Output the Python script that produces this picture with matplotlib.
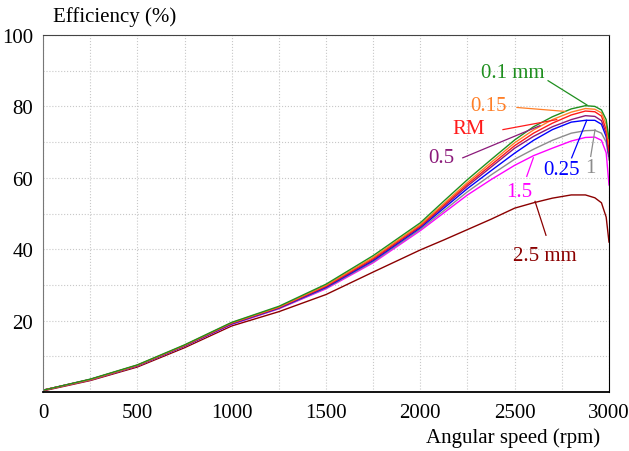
import numpy as np
import matplotlib.pyplot as plt
from matplotlib.ticker import MultipleLocator

plt.rcParams['font.family'] = ['Liberation Serif', 'DejaVu Serif']

# Angular speed (rpm) and efficiency (%) for each curve
rpm = [0, 250, 500, 750, 1000, 1250, 1500, 1750, 2000, 2125, 2250, 2375, 2500,
       2600, 2700, 2800, 2875, 2925, 2960, 2985, 3000]
eff_01 = [0.5, 3.6, 7.6, 13.2, 19.5, 24.0, 30.2, 38.2, 47.4, 53.5, 59.5, 65.1, 70.6,
          74.3, 77.1, 79.3, 80.2, 80.0, 79.0, 76.3, 71.0]
eff_015 = [0.5, 3.5, 7.5, 13.1, 19.4, 23.8, 29.9, 37.7, 46.9, 52.8, 58.7, 64.3, 69.8,
           73.4, 76.3, 78.4, 79.4, 79.2, 78.2, 75.0, 69.5]
eff_rm = [0.5, 3.5, 7.5, 13.0, 19.3, 23.7, 29.7, 37.4, 46.6, 52.4, 58.2, 63.6, 69.0,
          72.5, 75.3, 77.6, 78.7, 78.5, 77.3, 73.5, 67.5]
eff_05 = [0.5, 3.5, 7.4, 13.0, 19.2, 23.6, 29.5, 37.1, 46.3, 52.0, 57.7, 63.0, 68.3,
          71.6, 74.3, 76.3, 77.4, 77.2, 76.0, 72.5, 66.0]
eff_025 = [0.5, 3.5, 7.4, 12.9, 19.1, 23.5, 29.3, 36.8, 46.0, 51.5, 57.0, 62.0, 66.9,
           70.5, 73.5, 75.6, 76.1, 76.1, 75.0, 71.5, 66.0]
eff_1 = [0.5, 3.4, 7.3, 12.8, 19.0, 23.4, 29.1, 36.5, 45.6, 50.8, 56.1, 60.8, 65.2,
         68.0, 70.5, 72.5, 73.2, 73.3, 72.5, 70.0, 65.0]
eff_15 = [0.5, 3.4, 7.3, 12.8, 18.9, 23.3, 28.9, 36.2, 45.2, 50.2, 55.2, 59.5, 63.5,
          66.2, 68.3, 70.3, 71.3, 71.4, 70.5, 67.0, 58.0]
eff_25 = [0.3, 3.2, 7.0, 12.4, 18.5, 22.5, 27.3, 33.6, 39.8, 42.6, 45.5, 48.4, 51.5,
          53.0, 54.3, 55.2, 55.2, 54.4, 53.0, 49.0, 42.0]

fig = plt.figure(figsize=(6.29, 4.52), dpi=100)
ax = fig.add_axes([43/629, 1-393/452, 566/629, 357/452])

# curves (drawn bottom to top)
ax.plot(rpm, eff_25, color='#8b0000', lw=1.0)
ax.plot(rpm, eff_15, color='#ff00ff', lw=1.0)
ax.plot(rpm, eff_1, color='#8c8c8c', lw=1.0)
ax.plot(rpm, eff_025, color='#0000ff', lw=1.0)
ax.plot(rpm, eff_05, color='#8b1a7a', lw=1.0)
ax.plot(rpm, eff_rm, color='#ff1a1a', lw=1.0)
ax.plot(rpm, eff_015, color='#ff7f27', lw=1.0)
ax.plot(rpm, eff_01, color='#1f8f1f', lw=1.0)

# labels with leader lines
def label(txt, tx, ty, x0, y0, x1, y1, c):
    ax.plot([x0, x1], [y0, y1], color=c, lw=0.9)
    ax.text(tx, ty, txt, color=c, fontsize=15, ha='center', va='center')

label('0.1 mm', 2491, 89.4, 2677, 87.2, 2883, 80.4, '#1f8f1f')
label('0.15', 2361, 80.2, 2512, 79.7, 2767, 78.6, '#ff7f27')
label('RM', 2258, 73.7, 2438, 73.5, 2723, 76.3, '#ff1a1a')
label('0.5', 2110, 65.6, 2225, 65.6, 2634, 74.6, '#8b1a7a')
label('0.25', 2749, 62.3, 2802, 65.6, 2882, 76.1, '#0000ff')
label('1', 2899, 62.8, 2903, 66.0, 2926, 73.5, '#8c8c8c')
label('1.5', 2523, 56.2, 2564, 60.4, 2599, 65.6, '#ff00ff')
label('2.5 mm', 2662, 38.1, 2666, 43.9, 2608, 53.4, '#8b0000')

ax.set_xlim(0, 3000)
ax.set_ylim(0, 100)
ax.set_xticks([0, 500, 1000, 1500, 2000, 2500, 3000])
ax.set_yticks([20, 40, 60, 80, 100])
ax.xaxis.set_minor_locator(MultipleLocator(250))
ax.yaxis.set_minor_locator(MultipleLocator(10))
ax.grid(which='both', color='#c8c8c8', ls=':', lw=0.8)
ax.set_axisbelow(True)
ax.tick_params(which='both', length=0, labelsize=15)
ax.tick_params(axis='x', pad=8)
ax.tick_params(axis='y', pad=7)

ax.spines['left'].set_color('#777777')
ax.spines['top'].set_color('#444444')
ax.spines['right'].set_color('black')
ax.spines['bottom'].set_color('black')
ax.spines['bottom'].set_linewidth(1.3)

fig.text(53/629, 1-17/452, 'Efficiency (%)', fontsize=15, va='center', ha='left')
fig.text(600/629, 1-438/452, 'Angular speed (rpm)', fontsize=15, va='center', ha='right')

fig.savefig('out.png', dpi=100)
